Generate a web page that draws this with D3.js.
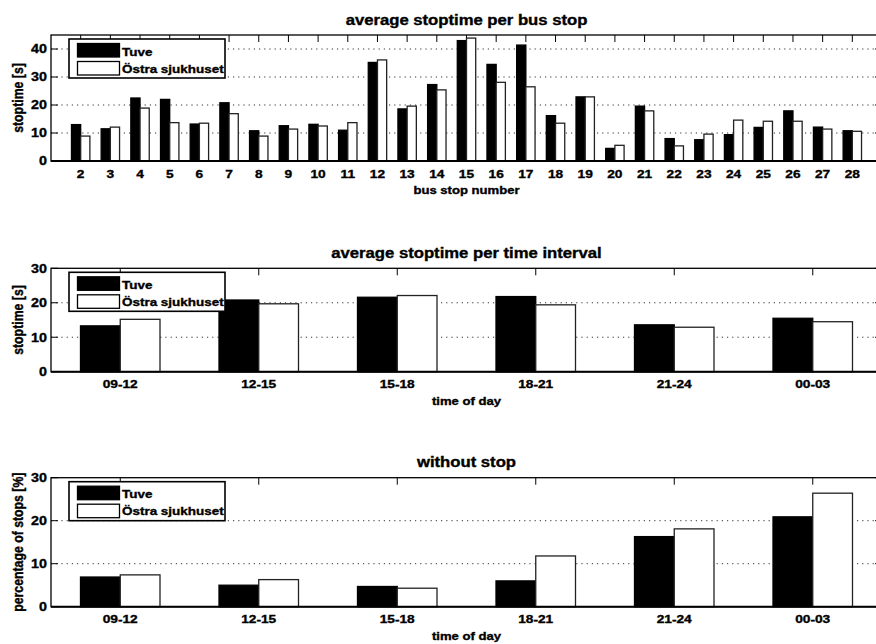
<!DOCTYPE html>
<html>
<head>
<meta charset="utf-8">
<script src="https://cdn.jsdelivr.net/npm/d3@7"></script>
<style>
  body { margin: 0; background: #fff; }
  svg { display: block; font-family: "Liberation Sans", Arial, sans-serif; font-weight: bold; }
  svg text { stroke: #000; stroke-width: 0.35px; }
</style>
</head>
<body>
<div id="chart"></div>
<script>
const width = 876;
const height = 644;
const SX = 1.19; // the original figure is stretched sideways

// Data
const stops = [2, 3, 4, 5, 6, 7, 8, 9, 10, 11, 12, 13, 14, 15, 16, 17, 18, 19, 20, 21, 22, 23, 24, 25, 26, 27, 28];
const tuveStop = [13.0, 11.5, 22.5, 22.0, 13.2, 20.8, 10.8, 12.6, 13.1, 11.0, 35.2, 18.6, 27.3, 43.0, 34.5, 41.4, 16.2, 22.9, 4.5, 19.6, 8.0, 7.6, 9.4, 12.0, 17.9, 12.1, 10.8];
const ostraStop = [8.9, 12.1, 18.9, 13.7, 13.5, 16.9, 8.9, 11.4, 12.5, 13.7, 36.1, 19.6, 25.4, 43.9, 28.1, 26.5, 13.5, 22.9, 5.6, 17.9, 5.4, 9.6, 14.6, 14.2, 14.2, 11.4, 10.6];

const intervals = ["09-12", "12-15", "15-18", "18-21", "21-24", "00-03"];
const tuveInterval = [13.3, 20.8, 21.6, 21.8, 13.6, 15.5];
const ostraInterval = [15.2, 19.7, 22.1, 19.4, 12.9, 14.5];
const tuveNoStop = [6.9, 5.0, 4.7, 6.0, 16.3, 20.9];
const ostraNoStop = [7.4, 6.3, 4.3, 11.8, 18.1, 26.4];

const seriesNames = ["Tuve", "Östra sjukhuset"];
const seriesFill = ["#000", "#fff"];

const stopTicks = [0, 10, 20, 30, 40];
const intervalTicks = [0, 10, 20, 30];

const left = 51;
const right = 882;

const svg = d3.select("#chart")
  .append("svg")
  .attr("width", width)
  .attr("height", height)
  .style("overflow", "hidden");

svg.append("rect").attr("width", width).attr("height", height).attr("fill", "#fff");

const stretch = (sel) => {
  sel.each(function () {
    const w = this.getComputedTextLength();
    d3.select(this).attr("textLength", w * SX).attr("lengthAdjust", "spacingAndGlyphs");
  });
};

const drawPanel = (cfg) => {
  const { top, bottom, cats, labels, xDomain, yMax, yTicks, a, b, title, xLabel, yLabel, barW } = cfg;
  const x = d3.scaleLinear().domain(xDomain).range([left, right]);
  const y = d3.scaleLinear().domain([0, yMax]).range([bottom, top]);
  const step = x(xDomain[0] + 1) - x(xDomain[0]);
  const bw = step * barW;

  const g = svg.append("g");

  // dotted grid
  g.append("g")
    .selectAll("line")
    .data(yTicks.filter((t) => t > 0 && t < yMax))
    .join("line")
    .attr("x1", left)
    .attr("x2", right)
    .attr("y1", (d) => y(d))
    .attr("y2", (d) => y(d))
    .attr("stroke", "#333")
    .attr("stroke-width", 1)
    .attr("stroke-dasharray", "1.2,4");

  // frame
  g.append("rect")
    .attr("x", left)
    .attr("y", top)
    .attr("width", right - left)
    .attr("height", bottom - top)
    .attr("fill", "none")
    .attr("stroke", "#000")
    .attr("stroke-width", 1.3);

  // top ticks
  g.append("g")
    .selectAll("line")
    .data(cats)
    .join("line")
    .attr("x1", (d) => x(d))
    .attr("x2", (d) => x(d))
    .attr("y1", top)
    .attr("y2", top + 7)
    .attr("stroke", "#000");

  // y ticks both sides
  const yt = g.append("g").selectAll("g").data(yTicks).join("g");
  yt.append("line")
    .attr("x1", left)
    .attr("x2", left + 7)
    .attr("y1", (d) => y(d))
    .attr("y2", (d) => y(d))
    .attr("stroke", "#000");
  yt.append("line")
    .attr("x1", right - 7)
    .attr("x2", right)
    .attr("y1", (d) => y(d))
    .attr("y2", (d) => y(d))
    .attr("stroke", "#000");
  yt.append("text")
    .attr("x", left - 4)
    .attr("y", (d) => y(d))
    .attr("dy", "0.36em")
    .attr("text-anchor", "end")
    .attr("font-size", 12)
    .text((d) => d)
    .call(stretch);

  // bars
  const barData = cats.flatMap((c, i) => [
    { c, v: a[i], s: 0 },
    { c, v: b[i], s: 1 }
  ]);
  g.append("g")
    .selectAll("rect")
    .data(barData)
    .join("rect")
    .attr("x", (d) => (d.s === 0 ? x(d.c) - bw : x(d.c)))
    .attr("y", (d) => y(d.v))
    .attr("width", bw)
    .attr("height", (d) => y(0) - y(d.v))
    .attr("fill", (d) => seriesFill[d.s])
    .attr("stroke", (d) => (d.s === 0 ? "#000" : "#222"))
    .attr("stroke-width", 1.3);

  // baseline
  g.append("line")
    .attr("x1", left)
    .attr("x2", right)
    .attr("y1", y(0))
    .attr("y2", y(0))
    .attr("stroke", "#000")
    .attr("stroke-width", 2);

  // x tick labels
  g.append("g")
    .selectAll("text")
    .data(cats)
    .join("text")
    .attr("x", (d) => x(d))
    .attr("y", bottom + 16.5)
    .attr("text-anchor", "middle")
    .attr("font-size", 11.5)
    .text((d, i) => labels[i])
    .call(stretch);

  // x label
  g.append("text")
    .attr("x", (left + right) / 2)
    .attr("y", bottom + 33)
    .attr("text-anchor", "middle")
    .attr("font-size", 11)
    .text(xLabel)
    .call(stretch);

  // title
  g.append("text")
    .attr("x", (left + right) / 2)
    .attr("y", top - 10.5)
    .attr("text-anchor", "middle")
    .attr("font-size", 14)
    .text(title)
    .call(stretch);

  // y label
  g.append("text")
    .attr("transform", `translate(22.5,${(top + bottom) / 2}) scale(${SX},1) rotate(-90)`)
    .attr("text-anchor", "middle")
    .attr("font-size", 12.3)
    .text(yLabel);

  // legend
  const lg = g.append("g").attr("transform", `translate(69,${top + 4})`);
  lg.append("rect")
    .attr("width", 156)
    .attr("height", 39)
    .attr("fill", "#fff")
    .attr("stroke", "#000")
    .attr("stroke-width", 1.6);
  seriesNames.forEach((name, i) => {
    lg.append("rect")
      .attr("x", 8.5)
      .attr("y", 4.5 + i * 18)
      .attr("width", 42)
      .attr("height", 13.5)
      .attr("fill", seriesFill[i])
      .attr("stroke", "#000")
      .attr("stroke-width", 1.3);
    lg.append("text")
      .attr("x", 53)
      .attr("y", 16.5 + i * 17)
      .attr("font-size", 11.3)
      .text(name)
      .call(stretch);
  });
};

drawPanel({
  top: 35, bottom: 161,
  cats: stops, labels: stops.map(String),
  xDomain: [1, 29], yMax: 45, yTicks: stopTicks,
  a: tuveStop, b: ostraStop, barW: 0.31,
  title: "average stoptime per bus stop",
  xLabel: "bus stop number",
  yLabel: "stoptime [s]"
});

drawPanel({
  top: 268.3, bottom: 371.7,
  cats: d3.range(1, intervals.length + 1), labels: intervals,
  xDomain: [0.5, 6.5], yMax: 30, yTicks: intervalTicks,
  a: tuveInterval, b: ostraInterval, barW: 0.287,
  title: "average stoptime per time interval",
  xLabel: "time of day",
  yLabel: "stoptime [s]"
});

drawPanel({
  top: 477.7, bottom: 606.7,
  cats: d3.range(1, intervals.length + 1), labels: intervals,
  xDomain: [0.5, 6.5], yMax: 30, yTicks: intervalTicks,
  a: tuveNoStop, b: ostraNoStop, barW: 0.287,
  title: "without stop",
  xLabel: "time of day",
  yLabel: "percentage of stops [%]"
});
</script>
</body>
</html>
